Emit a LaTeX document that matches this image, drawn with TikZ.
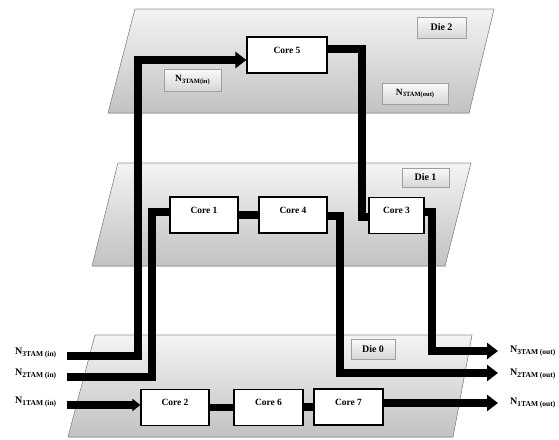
\documentclass[tikz,border=0pt]{standalone}
\usepackage{fontspec}
\setmainfont{Liberation Serif}
\usetikzlibrary{arrows.meta,shadows}
% N with a lowered subscript: #1 size of N, #2 size of subscript, #3 subscript
\newcommand{\tamlabel}[3]{{\bfseries\fontsize{#1}{#1}\selectfont N}\raisebox{-1.6pt}{\bfseries\fontsize{#2}{#2}\selectfont #3}}
\begin{document}
\begin{tikzpicture}[x=1pt,y=1pt,
  die/.style={draw=gray!85,line width=0.6pt,top color=gray!9,bottom color=gray!48},
  core/.style={draw=black,line width=1.2pt,fill=white,inner sep=0pt,
    text height=16pt,text depth=20pt,font=\fontsize{9.5}{10}\selectfont\bfseries},
  tag/.style={draw=gray!75,line width=0.5pt,top color=gray!4,bottom color=gray!32,
    inner sep=0pt,
    drop shadow={shadow xshift=1.3pt,shadow yshift=-1.3pt,fill=black,opacity=0.3},
    font=\fontsize{10}{10}\selectfont\bfseries},
  wire/.style={line width=7.5pt,draw=black},
  tip/.style={-{Triangle[length=11pt,width=16pt]}},
  smalltip/.style={-{Triangle[length=8pt,width=12pt]}},
  pin/.style={inner sep=0pt,anchor=west},
]
\useasboundingbox (0,0) rectangle (559,-439);

% stacked dies
\filldraw[die] (135,-9) -- (494,-9) -- (469,-113) -- (108,-113) -- cycle;
\filldraw[die] (118,-163) -- (471,-163) -- (445,-266) -- (92,-266) -- cycle;
\filldraw[die] (95,-335) -- (472,-335) -- (453,-437) -- (68,-437) -- cycle;

% die tags
\node[tag,minimum width=49pt,minimum height=21pt] (die2) at (441.5,-27.5) {Die 2};
\node[tag,minimum width=47pt,minimum height=19pt] (die1) at (425.5,-177.5) {Die 1};
\node[tag,minimum width=44pt,minimum height=20pt] (die0) at (373,-349) {Die 0};
\node[tag,minimum width=57pt,minimum height=22pt] (tam3in) at (192.5,-80) {\tamlabel{9.5}{6.5}{3TAM(in)}};
\node[tag,minimum width=66pt,minimum height=21pt] (tam3out) at (415,-93.5) {\tamlabel{9.5}{6.5}{3TAM(out)}};

% cores
\node[core,minimum width=80pt] (c5) at (287,-55) {Core 5};
\node[core,minimum width=68pt] (c1) at (204,-215) {Core 1};
\node[core,minimum width=68pt] (c4) at (293,-215) {Core 4};
\node[core,minimum width=55pt] (c3) at (396.5,-215.5) {Core 3};
\node[core,minimum width=68pt] (c2) at (175,-407.5) {Core 2};
\node[core,minimum width=69pt] (c6) at (268.5,-407.5) {Core 6};
\node[core,minimum width=69pt] (c7) at (348.5,-407) {Core 7};

% TAM pins
\node[pin] (l3in) at (15,-353) {\tamlabel{10}{7.5}{3TAM (in)}};
\node[pin] (l2in) at (15,-374) {\tamlabel{10}{7.5}{2TAM (in)}};
\node[pin] (l1in) at (15,-402) {\tamlabel{10}{7.5}{1TAM (in)}};
\node[pin] (l3out) at (510,-351) {\tamlabel{10}{7.5}{3TAM (out)}};
\node[pin] (l2out) at (510,-374) {\tamlabel{10}{7.5}{2TAM (out)}};
\node[pin] (l1out) at (510,-403) {\tamlabel{10}{7.5}{1TAM (out)}};

\coordinate (in3) at (67,-356);
\coordinate (in2) at (67,-377);
\coordinate (in1) at (67,-405);
\coordinate (out3) at (498,-351);
\coordinate (out2) at (498,-373);
\coordinate (out1) at (498,-403);

% TAM 3
\draw[wire,tip] (in3) -| (138,-60) -- ([yshift=-5pt]c5.west);
\draw[wire] ([yshift=6pt]c5.east) -| (362,-217) -- ([yshift=-1.5pt]c3.west);
\draw[wire,tip] ([yshift=3.5pt]c3.east) -| (432,-351) -- (out3);

% TAM 2
\draw[wire] (in2) -| (152,-212) -- ([yshift=3pt]c1.west);
\draw[wire] (c1.east) -- (c4.west);
\draw[wire,tip] ([yshift=-1pt]c4.east) -| (340,-373) -- (out2);

% TAM 1
\draw[wire,smalltip] (in1) -- (in1 -| c2.west);
\draw[wire] (c2.east) -- (c6.west);
\draw[wire] (c6.east |- c7.east) -- (c7.west);
\draw[wire,tip] (c7.east |- out1) -- (out1);
\end{tikzpicture}
\end{document}
